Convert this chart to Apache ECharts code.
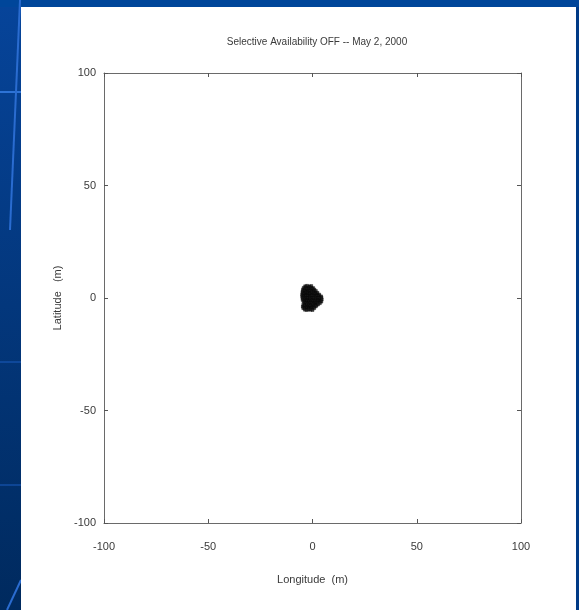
<!DOCTYPE html>
<html>
<head>
<meta charset="utf-8">
<script src="https://cdn.jsdelivr.net/npm/echarts@6/dist/echarts.min.js"></script>
<style>
html,body{margin:0;padding:0;background:#003a86;}
#chart{width:579px;height:610px;}
</style>
</head>
<body>
<div id="chart"></div>
<script>
const titleText = 'Selective Availability OFF -- May 2, 2000';
const xName = 'Longitude  (m)';
const yName = 'Latitude   (m)';
const axisTicks = [-100, -50, 0, 50, 100];

// GPS position fixes (m), read row by row from the cluster
const lon = [
 -3.5,-2.6,-1.5,-0.6,
 -4.2,-3.3,-2.4,-1.5,-0.6,0.3,
 -4.5,-3.6,-2.7,-1.8,-0.9,0.0,0.9,
 -4.7,-3.8,-2.9,-2.0,-1.1,-0.2,0.7,1.6,
 -4.8,-3.9,-3.0,-2.1,-1.2,-0.3,0.6,1.5,2.4,
 -4.9,-4.0,-3.1,-2.2,-1.3,-0.4,0.5,1.4,2.3,3.2,
 -4.9,-4.0,-3.1,-2.2,-1.3,-0.4,0.5,1.4,2.3,3.2,4.1,
 -4.8,-3.9,-3.0,-2.1,-1.2,-0.3,0.6,1.5,2.4,3.3,4.3,
 -4.7,-3.8,-2.9,-2.0,-1.1,-0.2,0.7,1.6,2.5,3.4,4.4,
 -4.3,-3.4,-2.5,-1.6,-0.7,0.2,1.1,2.0,2.9,3.7,4.2,
 -3.8,-2.9,-2.0,-1.1,-0.2,0.7,1.6,2.5,3.5,
 -4.4,-3.5,-2.6,-1.7,-0.8,0.1,1.0,1.9,2.6,
 -4.6,-3.7,-2.8,-1.9,-1.0,-0.1,0.8,1.6,
 -4.4,-3.5,-2.6,-1.7,-0.8,0.0,0.8,
 -3.6,-2.7,-1.8,-0.9,0.0
];
const lat = [
 5.2,5.4,5.1,5.3,
 4.5,4.6,4.4,4.6,4.5,4.4,
 3.8,3.7,3.9,3.8,3.7,3.9,3.7,
 3.0,3.1,2.9,3.0,3.1,2.9,3.0,3.1,
 2.3,2.2,2.4,2.3,2.2,2.4,2.3,2.2,2.3,
 1.5,1.6,1.4,1.5,1.6,1.4,1.5,1.6,1.4,1.5,
 0.8,0.7,0.9,0.8,0.7,0.9,0.8,0.7,0.9,0.8,0.7,
 0.0,0.1,-0.1,0.0,0.1,-0.1,0.0,0.1,-0.1,0.0,0.1,
 -0.8,-0.7,-0.9,-0.8,-0.7,-0.9,-0.8,-0.7,-0.9,-0.8,-0.7,
 -1.5,-1.6,-1.4,-1.5,-1.6,-1.4,-1.5,-1.6,-1.4,-1.5,-1.6,
 -2.3,-2.2,-2.4,-2.3,-2.2,-2.4,-2.3,-2.2,-2.3,
 -3.0,-3.1,-2.9,-3.0,-3.1,-2.9,-3.0,-3.1,-2.9,
 -3.8,-3.7,-3.9,-3.8,-3.7,-3.9,-3.8,-3.7,
 -4.5,-4.6,-4.4,-4.5,-4.6,-4.4,-4.5,
 -5.2,-5.3,-5.1,-5.2,-5.3
];

const pts = lon.map((x, i) => [x, lat[i]]);

const chart = echarts.init(document.getElementById('chart'), null, {renderer: 'canvas'});
const font = 'Liberation Sans, Arial, sans-serif';
const txt = '#3a3a3a';
const axisBase = {
  type: 'value', min: -100, max: 100, interval: 50,
  axisLine: {show: true, onZero: false, lineStyle: {color: '#6a6a6a', width: 1}},
  axisTick: {show: true, inside: true, length: 4, lineStyle: {color: '#555'}},
  splitLine: {show: false}
};
chart.setOption({
  backgroundColor: '#003a86',
  animation: false,
  graphic: [
    {type: 'rect', shape: {x: 0, y: 0, width: 21, height: 610},
     style: {fill: new echarts.graphic.LinearGradient(0, 0, 0, 1, [{offset: 0, color: '#06449a'}, {offset: 1, color: '#002a5e'}])}, z: -10},
    {type: 'rect', shape: {x: 0, y: 0, width: 579, height: 7}, style: {fill: '#00469a'}, z: -10},
    {type: 'line', shape: {x1: 0, y1: 92, x2: 21, y2: 92}, style: {stroke: '#2d73d6', lineWidth: 2}, z: -9},
    {type: 'line', shape: {x1: 0, y1: 362, x2: 21, y2: 362}, style: {stroke: '#1a5cbf', lineWidth: 1}, z: -9},
    {type: 'line', shape: {x1: 0, y1: 485, x2: 21, y2: 485}, style: {stroke: '#1a5cbf', lineWidth: 1}, z: -9},
    {type: 'line', shape: {x1: 20, y1: 0, x2: 10, y2: 230}, style: {stroke: '#2a6cd0', lineWidth: 2}, z: -9},
    {type: 'line', shape: {x1: 21, y1: 580, x2: 7, y2: 610}, style: {stroke: '#2a6cd0', lineWidth: 2}, z: -9},
    {type: 'rect', shape: {x: 21, y: 7, width: 555, height: 603}, style: {fill: '#ffffff'}, z: -8}
  ],
  title: {
    text: titleText, left: 312, top: 32, textAlign: 'center',
    textStyle: {fontFamily: font, fontSize: 10, fontWeight: 'normal', color: txt}
  },
  grid: {left: 104, right: 58, top: 73, bottom: 87, containLabel: false},
  xAxis: [
    Object.assign({}, axisBase, {
      position: 'bottom', name: xName, nameLocation: 'middle', nameGap: 51,
      nameTextStyle: {fontFamily: font, fontSize: 11, color: txt},
      axisLabel: {fontFamily: font, fontSize: 11, color: txt, margin: 18}
    }),
    Object.assign({}, axisBase, {position: 'top', axisLabel: {show: false}})
  ],
  yAxis: [
    Object.assign({}, axisBase, {
      position: 'left', name: yName, nameLocation: 'middle', nameGap: 41,
      nameTextStyle: {fontFamily: font, fontSize: 11, color: txt},
      axisLabel: {fontFamily: font, fontSize: 11, color: txt, margin: 8}
    }),
    Object.assign({}, axisBase, {position: 'right', axisLabel: {show: false}})
  ],
  series: [{
    type: 'scatter', xAxisIndex: 0, yAxisIndex: 0,
    data: pts, symbol: 'rect', symbolSize: 3,
    itemStyle: {color: '#1a1a1a', borderColor: '#000', borderWidth: 0.5}
  }]
});
</script>
</body>
</html>
